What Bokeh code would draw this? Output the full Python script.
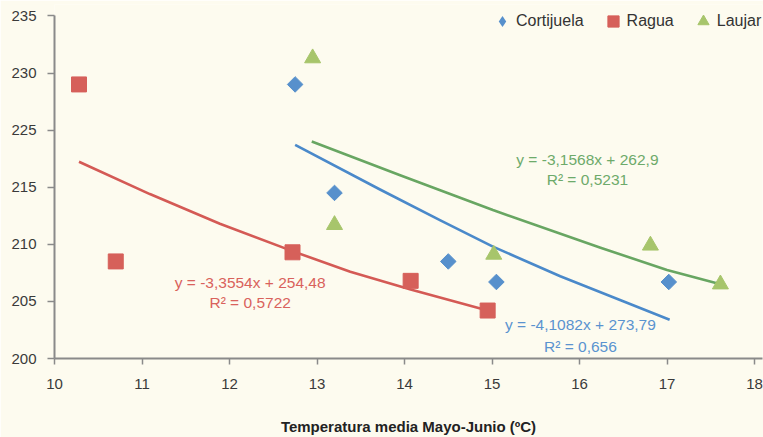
from bokeh.plotting import figure
from bokeh.models import (Range1d, FixedTicker, CustomJSTransform, Label, Legend,
                          LegendItem, ColumnDataSource)
from bokeh.transform import transform
from bokeh.embed import file_html
from bokeh.resources import INLINE
import math

# ---------------- data ----------------
series_names = ["Cortijuela", "Ragua", "Laujar"]

temp_cortijuela = [12.75, 13.2, 14.5, 15.05, 17.02]
value_cortijuela = [229.0, 214.5, 208.5, 206.7, 206.7]

temp_ragua = [10.28, 10.7, 12.72, 14.07, 14.95]
value_ragua = [229.0, 208.5, 209.3, 206.8, 204.2]

temp_laujar = [12.95, 13.2, 15.02, 16.81, 17.61]
value_laujar = [231.3, 211.7, 209.1, 209.9, 206.5]

# trend curves as drawn in the picture
trend_cortijuela_x = [12.75, 13.72, 14.41, 15.01, 15.78, 16.47, 17.03]
trend_cortijuela_y = [222.4, 214.8, 212.1, 209.8, 207.2, 205.1, 203.4]
trend_ragua_x = [10.28, 11.09, 11.89, 12.72, 13.38, 14.07, 14.95]
trend_ragua_y = [219.45, 214.4, 211.8, 209.4, 207.6, 206.05, 204.2]
trend_laujar_x = [12.94, 13.95, 15.01, 16.24, 17.00, 17.59]
trend_laujar_y = [223.0, 217.1, 213.0, 209.7, 207.75, 206.55]

equation_cortijuela = ["y = -4,1082x + 273,79", "R\u00b2 = 0,656"]
equation_ragua = ["y = -3,3554x + 254,48", "R\u00b2 = 0,5722"]
equation_laujar = ["y = -3,1568x + 262,9", "R\u00b2 = 0,5231"]

x_ticks = [10, 11, 12, 13, 14, 15, 16, 17, 18]
y_tick_labels = ["200", "205", "210", "215", "225", "230", "235"]
x_title = "Temperatura media Mayo-Junio (\u00baC)"

# ---------------- style ----------------
BG = "#FDFBEF"
FONT = "Liberation Sans"
C_BLUE_PT, C_BLUE_LN, C_BLUE_TX = "#5790CC", "#4A89CA", "#5A93CF"
C_RED_PT, C_RED_LN, C_RED_TX = "#D6605A", "#D45A55", "#D9625C"
C_GRN_PT, C_GRN_LN, C_GRN_TX = "#A7C56B", "#68A662", "#6DAA6A"
AXIS_C = "#8a8a8a"

# The value axis of the original is broken: equal steps 200..215, then 215->225, then 225..235
ytf = CustomJSTransform(
    func="""
      if (x <= 215) return (x - 200) / 5;
      if (x <= 225) return 3 + (x - 215) / 10;
      return 4 + (x - 225) / 5;
    """,
    v_func="""
      const out = new Float64Array(xs.length);
      for (let i = 0; i < xs.length; i++) {
        const v = xs[i];
        out[i] = v <= 215 ? (v - 200) / 5 : (v <= 225 ? 3 + (v - 215) / 10 : 4 + (v - 225) / 5);
      }
      return out;
    """,
)

n_y = len(y_tick_labels) - 1
p = figure(width=763, height=437, output_backend="svg", toolbar_location=None,
           x_range=Range1d(10, 18.091), y_range=Range1d(0, n_y + 0.2),
           min_border_left=54, min_border_right=1, min_border_top=4, min_border_bottom=78,
           background_fill_color=BG, border_fill_color=BG, outline_line_color=None)
p.xgrid.visible = False
p.ygrid.visible = False

def src(x, y):
    return ColumnDataSource(dict(x=x, y=y))

# trend lines
p.line("x", transform("y", ytf), source=src(trend_ragua_x, trend_ragua_y),
       line_color=C_RED_LN, line_width=2.6, line_join="round")
p.line("x", transform("y", ytf), source=src(trend_cortijuela_x, trend_cortijuela_y),
       line_color=C_BLUE_LN, line_width=2.6, line_join="round")
p.line("x", transform("y", ytf), source=src(trend_laujar_x, trend_laujar_y),
       line_color=C_GRN_LN, line_width=2.6, line_join="round")

# points
cortijuela_src = src(temp_cortijuela, value_cortijuela)
r_blue = p.scatter("x", transform("y", ytf), source=cortijuela_src,
                   marker="square", angle=math.pi / 4, size=11, fill_color=C_BLUE_PT,
                   line_color=C_BLUE_PT)
r_red = p.scatter("x", transform("y", ytf), source=src(temp_ragua, value_ragua),
                  marker="square", size=15, fill_color=C_RED_PT, line_color=C_RED_PT)
r_grn = p.scatter("x", transform("y", ytf), source=src(temp_laujar, value_laujar),
                  marker="triangle", size=16, fill_color=C_GRN_PT, line_color=C_GRN_PT)
# legend swatch for the diamonds (legend markers are not rotated); zero size in the plot
r_blue_key = p.scatter("x", transform("y", ytf), source=cortijuela_src, marker="diamond",
                       size=0, fill_color=C_BLUE_PT, line_color=None)

# axes
for ax in (p.xaxis[0], p.yaxis[0]):
    ax.axis_line_color = AXIS_C
    ax.axis_line_width = 2
    ax.major_tick_line_color = AXIS_C
    ax.major_tick_line_width = 1.5
    ax.major_tick_in = 0
    ax.minor_tick_in = 0
    ax.minor_tick_out = 0
    ax.major_label_text_font = FONT
    ax.major_label_text_font_size = "15px"
    ax.major_label_text_color = "#3a3a3a"

p.xaxis.ticker = FixedTicker(ticks=x_ticks)
p.xaxis.major_tick_out = 6
p.xaxis.major_label_standoff = 14
p.xaxis.axis_label = x_title
p.xaxis.axis_label_text_font = FONT
p.xaxis.axis_label_text_font_style = "bold"
p.xaxis.axis_label_text_font_size = "15px"
p.xaxis.axis_label_text_color = "#222222"
p.xaxis.axis_label_standoff = 26

p.yaxis.ticker = FixedTicker(ticks=list(range(n_y + 1)))
p.yaxis.bounds = (0, n_y)
p.yaxis.major_label_overrides = {i: lab for i, lab in enumerate(y_tick_labels)}
p.yaxis.major_tick_out = 7
p.yaxis.major_label_standoff = 11

# regression equations
def add_eq(lines, x, ys, color):
    for txt, y in zip(lines, ys):
        p.add_layout(Label(x=x, y=y, text=txt, text_align="center", text_baseline="middle",
                           text_color=color, text_font=FONT, text_font_size="15.5px"))

add_eq(equation_ragua, 12.236, [1.332, 0.983], C_RED_TX)
add_eq(equation_laujar, 16.09, [3.478, 3.13], C_GRN_TX)
add_eq(equation_cortijuela, 16.01, [0.599, 0.215], C_BLUE_TX)

# legend
legend = Legend(items=[LegendItem(label=series_names[0], renderers=[r_blue_key]),
                       LegendItem(label=series_names[1], renderers=[r_red]),
                       LegendItem(label=series_names[2], renderers=[r_grn])],
                orientation="horizontal", location=(434, 323),
                glyph_width=28, glyph_height=28, label_standoff=0, spacing=15,
                padding=0, margin=0, border_line_color=None, background_fill_alpha=0,
                label_text_font=FONT, label_text_font_size="16px",
                label_text_color="#333333")
p.add_layout(legend)

open("out.html", "w").write(file_html(p, INLINE))
